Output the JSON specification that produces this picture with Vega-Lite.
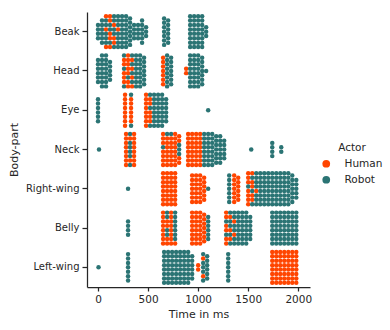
{
"$schema": "https://vega.github.io/schema/vega-lite/v6.json",
"width": 223, "height": 275,
"autosize": {"type": "none"},
"padding": {"left": 87, "top": 12, "right": 80, "bottom": 43},
"background": "white",
"config": {
 "font": "DejaVu Sans",
 "view": {"stroke": null},
 "axis": {"domainColor": "#262626", "domainWidth": 1.25, "tickColor": "#262626", "tickWidth": 1.25, "labelColor": "#262626", "labelFontSize": 10, "titleColor": "#262626", "titleFontSize": 11, "titleFontWeight": "normal", "grid": false, "labelFont": "DejaVu Sans", "titleFont": "DejaVu Sans"},
 "legend": {"labelFont": "DejaVu Sans", "titleFont": "DejaVu Sans"}
},
"data": {"values": "p,a,t\nB,r,0\nB,r,0\nB,r,0\nB,r,0\nB,r,40\nB,r,40\nB,r,40\nB,r,40\nB,r,40\nB,r,40\nB,h,80\nB,r,80\nB,r,80\nB,h,80\nB,r,80\nB,r,80\nB,r,80\nB,h,80\nB,h,120\nB,h,120\nB,r,120\nB,r,120\nB,h,120\nB,h,120\nB,r,120\nB,h,120\nB,r,160\nB,r,160\nB,h,160\nB,r,160\nB,r,160\nB,h,160\nB,h,160\nB,r,160\nB,r,200\nB,r,200\nB,r,200\nB,h,200\nB,r,200\nB,r,200\nB,r,200\nB,r,200\nB,r,240\nB,r,240\nB,r,240\nB,r,240\nB,r,240\nB,r,240\nB,r,240\nB,r,240\nB,r,280\nB,r,280\nB,r,280\nB,r,280\nB,r,280\nB,r,280\nB,r,280\nB,r,280\nB,r,320\nB,r,320\nB,r,320\nB,r,320\nB,r,320\nB,r,320\nB,r,320\nB,r,360\nB,r,360\nB,r,360\nB,r,360\nB,r,400\nB,r,400\nB,r,400\nB,r,400\nB,r,440\nB,r,440\nB,r,440\nB,r,440\nB,r,440\nB,r,440\nB,r,480\nB,r,480\nB,r,480\nB,r,660\nB,r,660\nB,r,660\nB,r,660\nB,r,660\nB,r,660\nB,r,660\nB,r,700\nB,r,700\nB,r,700\nB,r,700\nB,r,700\nB,r,700\nB,r,920\nB,r,920\nB,r,920\nB,r,920\nB,r,920\nB,r,920\nB,r,920\nB,r,920\nB,r,960\nB,r,960\nB,r,960\nB,r,960\nB,r,960\nB,r,960\nB,r,960\nB,r,960\nB,r,1000\nB,r,1000\nB,r,1000\nB,r,1000\nB,r,1000\nB,r,1000\nB,r,1000\nB,r,1000\nB,r,1040\nB,r,1040\nB,r,1040\nB,r,1040\nB,r,1040\nB,r,1040\nB,r,1040\nB,r,1040\nB,r,1080\nB,r,1080\nB,r,1080\nH,r,0\nH,r,0\nH,r,0\nH,r,0\nH,r,0\nH,r,0\nH,r,40\nH,r,40\nH,r,40\nH,r,40\nH,r,40\nH,r,40\nH,r,40\nH,r,40\nH,r,80\nH,r,80\nH,r,80\nH,r,80\nH,r,80\nH,r,80\nH,r,80\nH,r,80\nH,r,120\nH,r,120\nH,r,120\nH,r,120\nH,r,120\nH,r,260\nH,h,260\nH,h,260\nH,r,260\nH,h,260\nH,h,260\nH,h,260\nH,r,260\nH,h,300\nH,h,300\nH,h,300\nH,h,300\nH,h,300\nH,r,300\nH,h,300\nH,h,300\nH,r,340\nH,h,340\nH,r,340\nH,h,340\nH,r,340\nH,h,340\nH,r,340\nH,h,340\nH,r,380\nH,r,380\nH,r,380\nH,r,380\nH,r,380\nH,r,380\nH,r,380\nH,r,380\nH,r,420\nH,r,420\nH,r,420\nH,r,420\nH,r,420\nH,r,420\nH,r,420\nH,r,420\nH,r,460\nH,r,460\nH,r,460\nH,r,460\nH,r,460\nH,r,460\nH,r,460\nH,h,650\nH,h,650\nH,h,650\nH,h,650\nH,h,650\nH,h,650\nH,h,650\nH,r,690\nH,r,690\nH,r,690\nH,r,690\nH,r,690\nH,r,690\nH,r,690\nH,r,690\nH,r,730\nH,r,730\nH,r,730\nH,r,730\nH,r,730\nH,r,730\nH,r,730\nH,h,880\nH,h,880\nH,r,920\nH,r,920\nH,r,920\nH,r,920\nH,r,920\nH,r,920\nH,r,920\nH,r,920\nH,r,960\nH,r,960\nH,r,960\nH,r,960\nH,r,960\nH,r,960\nH,r,960\nH,r,960\nH,r,1000\nH,r,1000\nH,r,1000\nH,r,1000\nH,r,1000\nH,r,1000\nH,r,1000\nH,r,1000\nH,r,1040\nH,r,1040\nH,r,1040\nH,r,1040\nH,r,1040\nH,r,1040\nH,r,1040\nH,r,1080\nE,r,0\nE,r,0\nE,r,0\nE,r,0\nE,r,0\nE,r,0\nE,h,270\nE,h,270\nE,h,270\nE,h,270\nE,h,270\nE,h,270\nE,h,270\nE,h,270\nE,r,330\nE,h,330\nE,h,330\nE,h,330\nE,h,330\nE,h,330\nE,h,330\nE,r,330\nE,h,480\nE,h,480\nE,h,480\nE,h,480\nE,h,480\nE,h,480\nE,h,480\nE,h,480\nE,r,520\nE,h,520\nE,h,520\nE,r,520\nE,h,520\nE,h,520\nE,h,520\nE,r,520\nE,r,560\nE,r,560\nE,r,560\nE,r,560\nE,r,560\nE,r,560\nE,r,560\nE,r,560\nE,r,600\nE,r,600\nE,r,600\nE,r,600\nE,r,600\nE,r,600\nE,r,600\nE,r,600\nE,r,640\nE,r,640\nE,r,640\nE,r,640\nE,r,640\nE,r,640\nE,r,640\nE,r,640\nE,r,680\nE,r,680\nE,r,680\nE,r,680\nE,r,680\nE,r,680\nE,r,1100\nN,r,10\nN,h,280\nN,h,280\nN,h,280\nN,h,280\nN,h,280\nN,h,280\nN,h,280\nN,h,280\nN,r,320\nN,h,320\nN,r,320\nN,r,320\nN,r,320\nN,r,320\nN,h,320\nN,r,320\nN,h,360\nN,h,360\nN,h,360\nN,h,360\nN,h,360\nN,h,360\nN,h,360\nN,h,360\nN,h,650\nN,h,650\nN,h,650\nN,r,650\nN,h,650\nN,h,650\nN,h,650\nN,h,650\nN,r,690\nN,h,690\nN,h,690\nN,h,690\nN,h,690\nN,h,690\nN,h,690\nN,h,690\nN,r,730\nN,h,730\nN,h,730\nN,h,730\nN,h,730\nN,h,730\nN,h,730\nN,h,730\nN,h,770\nN,h,770\nN,h,770\nN,h,770\nN,h,770\nN,h,770\nN,h,770\nN,h,770\nN,h,810\nN,h,810\nN,r,810\nN,r,810\nN,r,810\nN,h,810\nN,h,810\nN,h,900\nN,h,900\nN,h,900\nN,h,900\nN,h,900\nN,h,900\nN,h,900\nN,h,900\nN,h,940\nN,h,940\nN,h,940\nN,h,940\nN,h,940\nN,h,940\nN,h,940\nN,h,940\nN,h,980\nN,h,980\nN,h,980\nN,h,980\nN,h,980\nN,h,980\nN,h,980\nN,h,980\nN,h,1020\nN,h,1020\nN,h,1020\nN,h,1020\nN,h,1020\nN,h,1020\nN,h,1020\nN,h,1020\nN,r,1060\nN,r,1060\nN,r,1060\nN,r,1060\nN,r,1060\nN,r,1060\nN,r,1060\nN,r,1060\nN,r,1100\nN,r,1100\nN,r,1100\nN,r,1100\nN,r,1100\nN,r,1100\nN,r,1100\nN,r,1100\nN,r,1140\nN,r,1140\nN,r,1140\nN,r,1140\nN,r,1140\nN,r,1140\nN,r,1140\nN,r,1140\nN,r,1180\nN,r,1180\nN,r,1180\nN,r,1180\nN,r,1180\nN,r,1180\nN,r,1180\nN,r,1220\nN,r,1220\nN,r,1220\nN,r,1220\nN,r,1220\nN,r,1220\nN,r,1220\nN,r,1260\nN,r,1260\nN,r,1260\nN,r,1260\nN,r,1260\nN,r,1530\nN,r,1740\nN,r,1740\nN,r,1740\nN,r,1740\nN,r,1830\nN,r,1830\nR,r,300\nR,h,650\nR,h,650\nR,h,650\nR,h,650\nR,h,650\nR,h,650\nR,h,650\nR,h,650\nR,h,690\nR,h,690\nR,h,690\nR,h,690\nR,h,690\nR,h,690\nR,h,690\nR,h,690\nR,h,730\nR,h,730\nR,h,730\nR,h,730\nR,h,730\nR,h,730\nR,h,730\nR,h,730\nR,h,770\nR,h,770\nR,h,770\nR,h,770\nR,h,770\nR,h,770\nR,h,770\nR,h,770\nR,h,940\nR,h,940\nR,h,940\nR,h,940\nR,h,940\nR,h,940\nR,h,940\nR,h,980\nR,h,980\nR,h,980\nR,h,980\nR,h,980\nR,h,980\nR,h,980\nR,h,1020\nR,h,1020\nR,h,1020\nR,h,1020\nR,h,1020\nR,h,1020\nR,h,1020\nR,h,1060\nR,h,1060\nR,h,1060\nR,h,1060\nR,h,1060\nR,h,1060\nR,r,1100\nR,r,1310\nR,r,1310\nR,r,1310\nR,r,1310\nR,r,1310\nR,r,1310\nR,r,1310\nR,h,1360\nR,h,1360\nR,h,1360\nR,h,1360\nR,h,1360\nR,h,1360\nR,h,1360\nR,h,1400\nR,h,1400\nR,h,1400\nR,h,1400\nR,h,1400\nR,h,1400\nR,h,1500\nR,h,1500\nR,h,1500\nR,r,1500\nR,h,1500\nR,h,1500\nR,h,1500\nR,h,1500\nR,h,1540\nR,r,1540\nR,h,1540\nR,h,1540\nR,r,1540\nR,h,1540\nR,h,1540\nR,r,1540\nR,r,1580\nR,r,1580\nR,r,1580\nR,r,1580\nR,h,1580\nR,r,1580\nR,r,1580\nR,r,1580\nR,r,1620\nR,r,1620\nR,r,1620\nR,r,1620\nR,r,1620\nR,r,1620\nR,r,1620\nR,r,1620\nR,r,1660\nR,r,1660\nR,r,1660\nR,r,1660\nR,r,1660\nR,r,1660\nR,r,1660\nR,r,1660\nR,r,1700\nR,r,1700\nR,r,1700\nR,r,1700\nR,r,1700\nR,r,1700\nR,r,1700\nR,r,1700\nR,r,1740\nR,r,1740\nR,r,1740\nR,r,1740\nR,r,1740\nR,r,1740\nR,r,1740\nR,r,1740\nR,r,1780\nR,r,1780\nR,r,1780\nR,r,1780\nR,r,1780\nR,r,1780\nR,r,1780\nR,r,1780\nR,r,1820\nR,r,1820\nR,r,1820\nR,r,1820\nR,r,1820\nR,r,1820\nR,r,1820\nR,r,1820\nR,r,1860\nR,r,1860\nR,r,1860\nR,r,1860\nR,r,1860\nR,r,1860\nR,r,1860\nR,r,1860\nR,r,1900\nR,r,1900\nR,r,1900\nR,r,1900\nR,r,1900\nR,r,1900\nR,r,1900\nR,r,1900\nR,r,1940\nR,r,1940\nR,r,1940\nR,r,1940\nR,r,1940\nR,r,1940\nR,r,1940\nR,r,1980\nR,r,1980\nR,r,1980\nR,r,1980\nR,r,1980\nY,r,300\nY,r,300\nY,r,300\nY,r,300\nY,h,650\nY,h,650\nY,h,650\nY,h,650\nY,h,650\nY,h,650\nY,h,650\nY,h,650\nY,r,690\nY,r,690\nY,h,690\nY,h,690\nY,r,690\nY,r,690\nY,h,690\nY,h,690\nY,h,730\nY,h,730\nY,h,730\nY,h,730\nY,h,730\nY,h,730\nY,h,730\nY,h,730\nY,r,770\nY,r,770\nY,r,770\nY,r,770\nY,r,770\nY,r,770\nY,r,770\nY,h,770\nY,h,940\nY,h,940\nY,h,940\nY,h,940\nY,h,940\nY,h,940\nY,h,940\nY,h,940\nY,h,980\nY,h,980\nY,h,980\nY,h,980\nY,h,980\nY,h,980\nY,h,980\nY,h,980\nY,h,1020\nY,h,1020\nY,h,1020\nY,h,1020\nY,h,1020\nY,h,1020\nY,h,1020\nY,h,1020\nY,h,1060\nY,h,1060\nY,h,1060\nY,h,1060\nY,h,1060\nY,h,1060\nY,h,1060\nY,r,1100\nY,r,1100\nY,r,1100\nY,r,1100\nY,r,1100\nY,r,1100\nY,h,1280\nY,h,1280\nY,r,1280\nY,h,1280\nY,h,1280\nY,r,1280\nY,h,1280\nY,h,1280\nY,r,1320\nY,h,1320\nY,r,1320\nY,r,1320\nY,h,1320\nY,r,1320\nY,h,1320\nY,r,1320\nY,r,1360\nY,r,1360\nY,h,1360\nY,r,1360\nY,r,1360\nY,h,1360\nY,r,1360\nY,r,1360\nY,r,1400\nY,r,1400\nY,r,1400\nY,r,1400\nY,r,1400\nY,r,1400\nY,r,1400\nY,r,1400\nY,r,1440\nY,r,1440\nY,r,1440\nY,r,1440\nY,r,1440\nY,r,1440\nY,r,1440\nY,r,1440\nY,r,1480\nY,r,1480\nY,r,1480\nY,r,1480\nY,r,1480\nY,r,1480\nY,r,1480\nY,r,1480\nY,r,1520\nY,r,1520\nY,r,1520\nY,r,1520\nY,r,1520\nY,r,1520\nY,r,1740\nY,r,1740\nY,r,1740\nY,r,1740\nY,r,1740\nY,r,1740\nY,r,1740\nY,r,1740\nY,r,1780\nY,r,1780\nY,r,1780\nY,r,1780\nY,r,1780\nY,r,1780\nY,r,1780\nY,r,1780\nY,r,1820\nY,r,1820\nY,r,1820\nY,r,1820\nY,r,1820\nY,r,1820\nY,r,1820\nY,r,1820\nY,r,1860\nY,r,1860\nY,r,1860\nY,r,1860\nY,r,1860\nY,r,1860\nY,r,1860\nY,r,1860\nY,r,1900\nY,r,1900\nY,r,1900\nY,r,1900\nY,r,1900\nY,r,1900\nY,r,1900\nY,r,1900\nY,r,1940\nY,r,1940\nY,r,1940\nY,r,1940\nY,r,1940\nY,r,1940\nY,r,1940\nY,r,1940\nY,r,1980\nY,r,1980\nY,r,1980\nY,r,1980\nY,r,1980\nY,r,1980\nY,r,1980\nY,r,1980\nL,r,5\nL,r,300\nL,r,300\nL,r,300\nL,r,300\nL,r,300\nL,r,300\nL,r,300\nL,r,660\nL,r,660\nL,r,660\nL,r,660\nL,r,660\nL,r,660\nL,r,660\nL,r,660\nL,r,700\nL,r,700\nL,r,700\nL,r,700\nL,r,700\nL,r,700\nL,r,700\nL,r,700\nL,r,740\nL,r,740\nL,r,740\nL,r,740\nL,r,740\nL,r,740\nL,r,740\nL,r,740\nL,r,780\nL,r,780\nL,r,780\nL,r,780\nL,r,780\nL,r,780\nL,r,780\nL,r,780\nL,r,820\nL,r,820\nL,r,820\nL,r,820\nL,r,820\nL,r,820\nL,r,820\nL,r,820\nL,r,860\nL,r,860\nL,r,860\nL,r,860\nL,r,860\nL,r,860\nL,r,860\nL,r,860\nL,r,900\nL,r,900\nL,r,900\nL,r,900\nL,r,900\nL,r,900\nL,r,900\nL,r,900\nL,r,940\nL,r,940\nL,r,940\nL,r,940\nL,r,940\nL,r,940\nL,h,1000\nL,h,1000\nL,r,1050\nL,h,1050\nL,r,1050\nL,r,1050\nL,r,1050\nL,h,1050\nL,r,1050\nL,r,1090\nL,r,1090\nL,r,1090\nL,r,1090\nL,r,1090\nL,r,1090\nL,r,1300\nL,r,1300\nL,r,1300\nL,r,1300\nL,r,1300\nL,r,1300\nL,r,1300\nL,h,1740\nL,h,1740\nL,h,1740\nL,h,1740\nL,h,1740\nL,h,1740\nL,h,1740\nL,h,1740\nL,h,1780\nL,h,1780\nL,h,1780\nL,h,1780\nL,h,1780\nL,h,1780\nL,h,1780\nL,h,1780\nL,h,1820\nL,h,1820\nL,h,1820\nL,h,1820\nL,h,1820\nL,h,1820\nL,h,1820\nL,h,1820\nL,h,1860\nL,h,1860\nL,h,1860\nL,h,1860\nL,h,1860\nL,h,1860\nL,h,1860\nL,h,1860\nL,h,1900\nL,h,1900\nL,h,1900\nL,h,1900\nL,h,1900\nL,h,1900\nL,h,1900\nL,h,1900\nL,h,1940\nL,h,1940\nL,h,1940\nL,h,1940\nL,h,1940\nL,h,1940\nL,h,1940\nL,h,1940\nL,h,1980\nL,h,1980\nL,h,1980\nL,h,1980\nL,h,1980\nL,h,1980\nL,h,1980\nL,h,1980", "format": {"type": "csv", "parse": {"t": "number"}}},
"transform": [
 {"window": [{"op": "count", "as": "one"}], "frame": [0, 0], "ignorePeers": true},
 {"stack": "one", "groupby": ["p", "t"], "offset": "center", "as": ["s0", "s1"]}
],
"mark": {"type": "circle", "size": 20, "opacity": 1},
"encoding": {
 "x": {"field": "t", "type": "quantitative", "scale": {"domain": [-110, 2117], "nice": false, "zero": false}, "axis": {"values": [0, 500, 1000, 1500, 2000], "format": "d", "title": "Time in ms", "tickSize": 4, "labelPadding": 3, "titlePadding": 4, "labelFontSize": 10.5}},
 "y": {"field": "p", "type": "nominal", "sort": null, "scale": {"type": "band", "domain": ["B", "H", "E", "N", "R", "Y", "L"], "paddingInner": 0, "paddingOuter": 0}, "axis": {"title": "Body-part", "tickSize": 5, "labelPadding": 3, "titlePadding": 6, "labelExpr": "datum.value == 'B' ? 'Beak' : datum.value == 'H' ? 'Head' : datum.value == 'E' ? 'Eye' : datum.value == 'N' ? 'Neck' : datum.value == 'R' ? 'Right-wing' : datum.value == 'Y' ? 'Belly' : 'Left-wing'"}},
 "yOffset": {"field": "s0", "type": "quantitative", "scale": {"domain": [-0.95, 7.95], "range": [0, 39.29], "nice": false, "zero": false}},
 "color": {"field": "a", "type": "nominal", "scale": {"domain": ["h", "r"], "range": ["#ff4500", "#2b7474"]}, "legend": {"title": "Actor", "orient": "none", "legendX": 234, "legendY": 131, "titleFontSize": 10.5, "titleFontWeight": "normal", "titleColor": "#262626", "titleAnchor": "middle", "labelFontSize": 10.5, "labelColor": "#262626", "symbolType": "circle", "symbolSize": 60, "symbolOpacity": 1, "symbolStrokeWidth": 0, "rowPadding": 5, "labelOffset": 13, "labelExpr": "datum.value == 'h' ? 'Human' : 'Robot'"}}
}
}
